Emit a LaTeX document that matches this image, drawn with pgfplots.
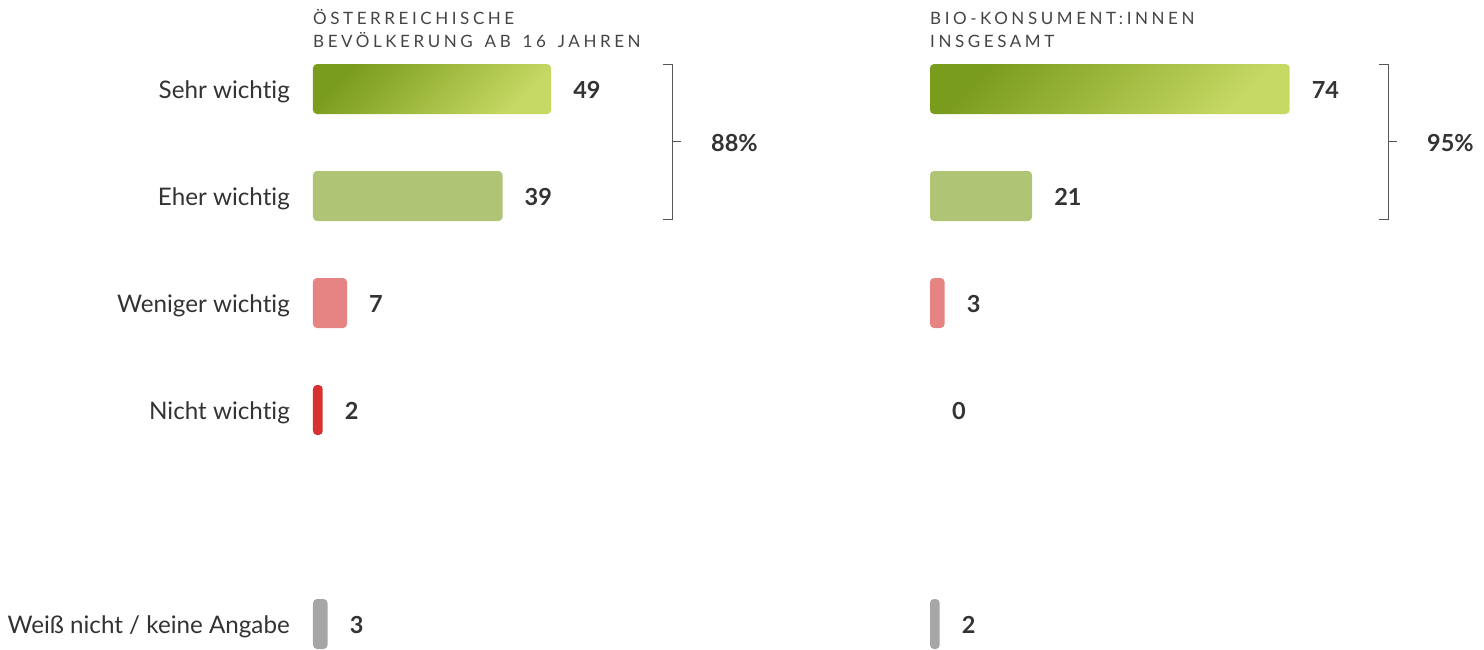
\documentclass[border=0pt]{standalone}
\usepackage{fontspec}
\setmainfont[Ligatures=NoCommon]{Lato}
\newfontfamily\titlefont[LetterSpace=21,WordSpace=1.5,Ligatures=NoCommon]{Lato}
\usepackage{pgfplots}
\pgfplotsset{compat=1.18}
\definecolor{gA}{HTML}{7A9C1C}
\definecolor{gB}{HTML}{C6D964}
\definecolor{gC}{HTML}{B0C476}
\definecolor{rA}{HTML}{E68383}
\definecolor{rB}{HTML}{D93030}
\definecolor{grey}{HTML}{A6A6A6}
\definecolor{txt}{HTML}{333333}
\definecolor{ttl}{HTML}{444444}
\definecolor{brk}{HTML}{555555}
\pgfplotsset{panel/.style={
  xbar, bar shift=0pt, bar width=50pt,
  scale only axis, width=364.5pt, height=615.25pt,
  xmin=0, xmax=75, ymin=-0.5, ymax=5.25, y dir=reverse,
  axis line style={draw=none}, tick style={draw=none}, major tick length=0pt,
  xtick=\empty, clip=false, anchor=north west,
  /pgf/number format/assume math mode=true,
  nodes near coords,
  nodes near coords style={anchor=base west, inner sep=0pt, xshift=22pt, yshift=-9pt,
    font=\fontsize{23.5}{28}\selectfont\bfseries, text=txt},
  every axis plot/.append style={draw=none, rounded corners=4pt, bar shift=0pt},
}}
\begin{document}
\begin{tikzpicture}
\begin{axis}[panel, at={(313pt,613.5pt)},
  ytick={0,1,2,3,5},
  yticklabels={Sehr wichtig, Eher wichtig, Weniger wichtig, Nicht wichtig, Weiß nicht / keine Angabe},
  yticklabel style={font=\fontsize{24.2}{29}\selectfont, text=txt, inner sep=0pt, anchor=base east, xshift=-23pt, yshift=-9pt}]
\addplot[left color=gA, right color=gB, shading angle=45] coordinates {(49,0)};
\addplot[fill=gC] coordinates {(39,1)};
\addplot[fill=rA] coordinates {(7,2)};
\addplot[fill=rB] coordinates {(2,3)};
\addplot[fill=grey] coordinates {(3,5)};
\draw[brk, line width=0.9pt] ([xshift=-9pt]axis cs:73.97,-0.234) -- (axis cs:73.97,-0.234) -- (axis cs:73.97,1.215) -- ([xshift=-9pt]axis cs:73.97,1.215);
\draw[brk, line width=0.9pt] (axis cs:73.97,0.486) -- ([xshift=9pt]axis cs:73.97,0.486);
\node[anchor=base west, inner sep=0pt, text=txt, font=\fontsize{23.5}{28}\selectfont\bfseries] at ([xshift=38.5pt,yshift=-9pt]axis cs:73.97,0.5) {88\%};
\end{axis}
\begin{axis}[panel, at={(930pt,613.5pt)}, ytick=\empty]
\addplot[left color=gA, right color=gB, shading angle=45] coordinates {(74,0)};
\addplot[fill=gC] coordinates {(21,1)};
\addplot[fill=rA] coordinates {(3,2)};
\addplot[fill=none] coordinates {(0,3)};
\addplot[fill=grey] coordinates {(2,5)};
\draw[brk, line width=0.9pt] ([xshift=-9pt]axis cs:94.24,-0.234) -- (axis cs:94.24,-0.234) -- (axis cs:94.24,1.215) -- ([xshift=-9pt]axis cs:94.24,1.215);
\draw[brk, line width=0.9pt] (axis cs:94.24,0.486) -- ([xshift=9pt]axis cs:94.24,0.486);
\node[anchor=base west, inner sep=0pt, text=txt, font=\fontsize{23.5}{28}\selectfont\bfseries] at ([xshift=39pt,yshift=-9pt]axis cs:94.24,0.5) {95\%};
\end{axis}
\begin{scope}[every node/.style={anchor=base west, inner sep=0pt, text=ttl, font=\titlefont\fontsize{17}{20}\selectfont}]
\node at (313pt,624pt) {ÖSTERREICHISCHE};
\node at (313pt,601pt) {BEVÖLKERUNG AB 16 JAHREN};
\node at (930pt,624pt) {BIO-KONSUMENT:INNEN};
\node at (930pt,601pt) {INSGESAMT};
\end{scope}
\pgfresetboundingbox
\useasboundingbox (0,0) rectangle (1484pt,649pt);
\end{tikzpicture}
\end{document}
